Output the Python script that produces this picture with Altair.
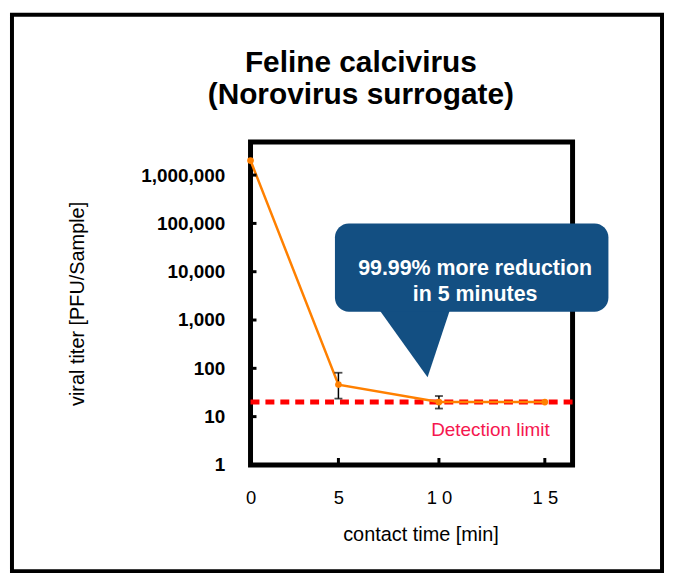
import altair as alt
import pandas as pd

# ---- data ----
time_min = [0, 5, 10, 15]
titer = [2000000, 46, 20, 20]

err_time = [5, 10]
err_low = [23.6, 14.7]
err_high = [81, 26.7]

detection_limit = [20]

y_tick_values = [1, 10, 100, 1000, 10000, 100000, 1000000]
inner_y_ticks = [10, 100, 1000, 10000, 100000, 1000000]
x_tick_values = [0, 5, 10, 15]
x_tick_labels = ["0", "5", "1 0", "1 5"]
inner_x_ticks = [5, 10, 15]

title_lines = ["Feline calcivirus", "(Norovirus surrogate)"]

# callout (in data units)
box_x = [4.82]
box_x2 = [17.92]
box_y = [1480]
box_y2 = [100000]
pointer_x = [6.92, 9.45, 10.6]
pointer_top = [2000, 2000, 2000]
pointer_bottom = [2000, 65, 2000]
callout_text = ["99.99% more reduction", "in 5 minutes"]
callout_x = [11.73]
callout_y = [11600]

det_text = ["Detection limit"]
det_x = [12.46]
det_y = [5.25]

FONT = "Liberation Sans"
ORANGE = "#ff8000"
RED = "#ff0000"
BLUE = "#134f82"
PINK = "#f5174f"

W, H = 324, 325

df = pd.DataFrame({"t": time_min, "v": titer})
df_err = pd.DataFrame({"t": err_time, "lo": err_low, "hi": err_high})
df_det = pd.DataFrame({"v": detection_limit})

x_scale = alt.Scale(type="pow", exponent=1.1, domain=[0, 16.28], nice=False, zero=False)
y_scale = alt.Scale(type="log", domain=[1, 10 ** 6.687], nice=False)

label_expr = "[" + ",".join("'" + s + "'" for s in x_tick_labels) + "][indexof(" + str(x_tick_values) + ", datum.value)]"

x_axis = alt.Axis(
    values=x_tick_values, labelExpr=label_expr, title="contact time [min]",
    labelFontSize=18.5, labelPadding=24, titleFontSize=20, titleFontWeight="normal",
    titlePadding=18, titleX=171, labelFlush=False,
)
y_axis = alt.Axis(
    values=y_tick_values, format=",.0f", title="viral titer [PFU/Sample]",
    labelFontSize=19, labelFontWeight="bold", labelPadding=26,
    titleFontSize=20, titleFontWeight="normal", titlePadding=54, labelFlush=False,
)

base = alt.Chart(df)

det_line = alt.Chart(df_det).mark_rule(color=RED, strokeWidth=5, strokeDash=[9, 6]).encode(
    y=alt.Y("v:Q", scale=y_scale, axis=y_axis)
)

line = base.mark_line(color=ORANGE, strokeWidth=2.5).encode(
    x=alt.X("t:Q", scale=x_scale, axis=x_axis),
    y=alt.Y("v:Q", scale=y_scale, axis=y_axis),
)
points = base.mark_circle(color=ORANGE, size=45, opacity=1).encode(
    x=alt.X("t:Q", scale=x_scale),
    y=alt.Y("v:Q", scale=y_scale),
)

err_rule = alt.Chart(df_err).mark_rule(color="black", strokeWidth=1.5).encode(
    x=alt.X("t:Q", scale=x_scale),
    y=alt.Y("lo:Q", scale=y_scale),
    y2="hi:Q",
)
err_cap_lo = alt.Chart(df_err).mark_tick(color="black", thickness=1.8, size=8, orient="horizontal").encode(
    x=alt.X("t:Q", scale=x_scale),
    y=alt.Y("lo:Q", scale=y_scale),
)
err_cap_hi = alt.Chart(df_err).mark_tick(color="black", thickness=1.8, size=8, orient="horizontal").encode(
    x=alt.X("t:Q", scale=x_scale),
    y=alt.Y("hi:Q", scale=y_scale),
)

ytick_marks = alt.Chart(pd.DataFrame({"v": inner_y_ticks})).mark_rule(color="black", strokeWidth=3).encode(
    y=alt.Y("v:Q", scale=y_scale),
    x=alt.value(0),
    x2=alt.value(6),
)
xtick_marks = alt.Chart(pd.DataFrame({"t": inner_x_ticks})).mark_rule(color="black", strokeWidth=3).encode(
    x=alt.X("t:Q", scale=x_scale),
    y=alt.value(H),
    y2=alt.value(H - 7),
)

box = alt.Chart(pd.DataFrame({"x": box_x, "x2": box_x2, "y": box_y, "y2": box_y2})).mark_rect(
    color=BLUE, cornerRadius=14, clip=False
).encode(
    x=alt.X("x:Q", scale=x_scale), x2="x2:Q",
    y=alt.Y("y:Q", scale=y_scale), y2="y2:Q",
)
pointer = alt.Chart(pd.DataFrame({"x": pointer_x, "top": pointer_top, "bot": pointer_bottom})).mark_area(
    color=BLUE, opacity=1, clip=False
).encode(
    x=alt.X("x:Q", scale=x_scale),
    y=alt.Y("top:Q", scale=y_scale),
    y2="bot:Q",
)
callout = alt.Chart(pd.DataFrame({"x": callout_x, "y": callout_y, "txt": [callout_text]})).mark_text(
    color="white", font=FONT, fontSize=21.5, fontWeight="bold", align="center", baseline="middle",
    lineHeight=27,
).encode(
    x=alt.X("x:Q", scale=x_scale),
    y=alt.Y("y:Q", scale=y_scale),
    text="txt",
)
det_label = alt.Chart(pd.DataFrame({"x": det_x, "y": det_y, "txt": det_text})).mark_text(
    color=PINK, font=FONT, fontSize=19, align="center", baseline="middle",
).encode(
    x=alt.X("x:Q", scale=x_scale),
    y=alt.Y("y:Q", scale=y_scale),
    text="txt:N",
)

title_mark = alt.Chart(pd.DataFrame({"txt": [title_lines]})).mark_text(
    color="black", font=FONT, fontSize=30, fontWeight="bold", align="center", baseline="middle",
    lineHeight=32, clip=False,
).encode(
    x=alt.value(111), y=alt.value(-79), text="txt"
)

outer = alt.Chart(pd.DataFrame({"a": [0]})).mark_rect(
    filled=False, stroke="black", strokeWidth=4, clip=False
).encode(
    x=alt.value(-240), x2=alt.value(414), y=alt.value(-128), y2=alt.value(432)
)

chart = alt.layer(
    det_line, line, err_rule, err_cap_lo, err_cap_hi, points, ytick_marks, xtick_marks,
    pointer, box, callout, det_label, title_mark, outer,
).properties(
    width=W, height=H,
    autosize=alt.AutoSizeParams(type="none"),
    padding={"left": 244, "top": 133, "right": 93, "bottom": 107},
).configure_view(
    stroke="black", strokeWidth=5
).configure_axis(
    domain=False, grid=False, ticks=False, labelColor="black", titleColor="black",
    labelFont=FONT, titleFont=FONT,
)

chart.save("out.html", embed_options={"renderer": "svg", "actions": False})
